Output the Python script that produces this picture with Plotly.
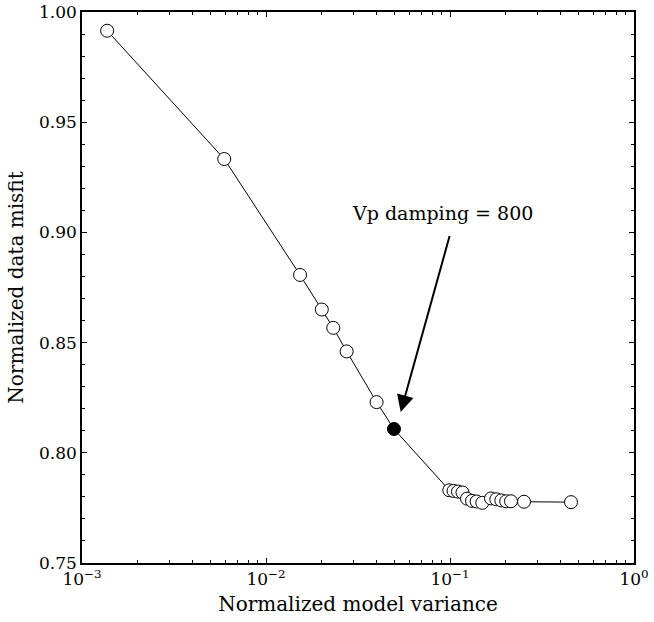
import plotly.graph_objects as go

# Data
model_variance = [0.00137, 0.00593, 0.01531, 0.0201, 0.0232, 0.02744, 0.0399, 0.0496,
                  0.0991, 0.1045, 0.1105, 0.1169, 0.1237, 0.1317, 0.1396, 0.1498,
                  0.1671, 0.1784, 0.190, 0.2021, 0.2145, 0.2525, 0.4546]
data_misfit = [0.9915, 0.9333, 0.8807, 0.865, 0.8567, 0.846, 0.823, 0.8108,
               0.783, 0.7827, 0.7824, 0.782, 0.7792, 0.7782, 0.7779, 0.7773,
               0.7793, 0.7789, 0.7784, 0.778, 0.778, 0.7778, 0.7776]
chosen_index = 7
label_text = "Vp damping = 800"
x_tick_values = [0.001, 0.01, 0.1, 1]
x_tick_labels = ["10<sup>−3</sup>", "10<sup>−2</sup>", "10<sup>−1</sup>", "10<sup>0</sup>"]
x_minor_tick_values = [k * d for d in (0.001, 0.01, 0.1) for k in range(2, 10)]

font_family = "DejaVu Serif"

open_x = [v for i, v in enumerate(model_variance) if i != chosen_index]
open_y = [v for i, v in enumerate(data_misfit) if i != chosen_index]

fig = go.Figure()
fig.add_trace(go.Scatter(x=model_variance, y=data_misfit, mode="lines",
                         line=dict(color="black", width=1), hoverinfo="skip",
                         showlegend=False))
fig.add_trace(go.Scatter(x=open_x, y=open_y, mode="markers",
                         marker=dict(size=13, color="white",
                                     line=dict(color="black", width=1)),
                         showlegend=False))
fig.add_trace(go.Scatter(x=[model_variance[chosen_index]], y=[data_misfit[chosen_index]],
                         mode="markers",
                         marker=dict(size=13, color="black",
                                     line=dict(color="black", width=1)),
                         showlegend=False))

fig.add_annotation(x=-1.268, y=0.8185, xref="x", yref="y",
                   ax=-1.0, ay=0.899, axref="x", ayref="y",
                   showarrow=True, arrowhead=2, arrowsize=1.7, arrowwidth=2,
                   arrowcolor="black", text="")
fig.add_annotation(x=-1.043, y=0.909, xref="x", yref="y", text=label_text,
                   showarrow=False, font=dict(family=font_family, size=19, color="black"))

axis_common = dict(showgrid=False, zeroline=False, showline=True, linecolor="black",
                   linewidth=1.5, mirror="allticks", ticks="inside", ticklen=5,
                   tickcolor="black", tickwidth=1, automargin=False,
                   tickfont=dict(family=font_family, size=17, color="black"))

fig.update_xaxes(type="log", range=[-3, 0], tickvals=x_tick_values, ticktext=x_tick_labels,
                 minor=dict(ticks="inside", ticklen=3, tickmode="array",
                            tickvals=x_minor_tick_values, tickcolor="black",
                            showgrid=False),
                 title=dict(text="Normalized model variance",
                            font=dict(family=font_family, size=20, color="black"),
                            standoff=9),
                 **axis_common)
fig.update_yaxes(range=[0.75, 1.0], dtick=0.05, tickformat=".2f",
                 minor=dict(ticks="inside", ticklen=3, dtick=0.01, tickcolor="black",
                            showgrid=False),
                 title=dict(text="Normalized data misfit",
                            font=dict(family=font_family, size=20, color="black"),
                            standoff=10),
                 **axis_common)

fig.update_layout(width=654, height=622, margin=dict(l=82, r=20, t=12, b=59),
                  plot_bgcolor="white", paper_bgcolor="white",
                  font=dict(family=font_family, color="black"))

fig.write_html("out.html")
